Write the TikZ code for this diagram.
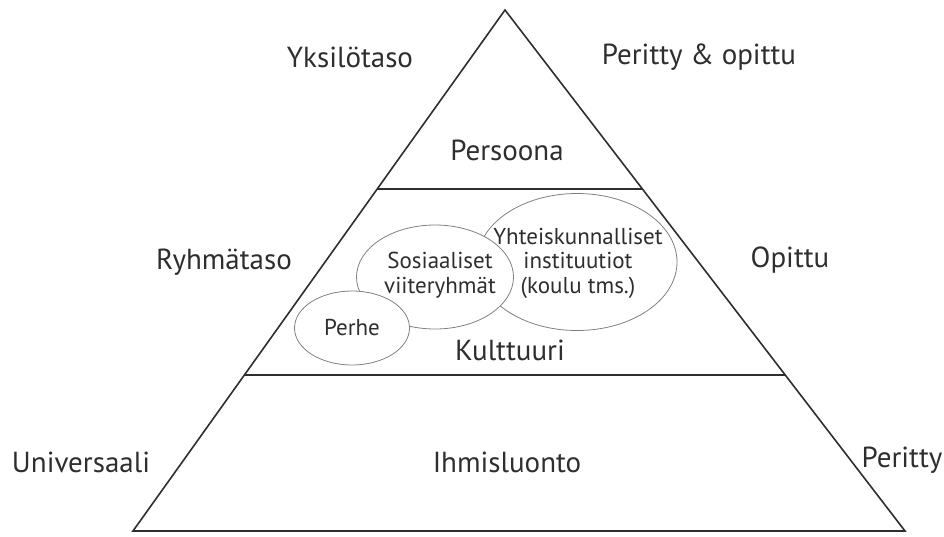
\documentclass[tikz,border=0pt]{standalone}
\usepackage{fontspec}
\setmainfont{PT Sans}
\usetikzlibrary{calc,shapes.geometric}
\definecolor{ink}{HTML}{2E2E2E}
\definecolor{rim}{HTML}{808080}
\tikzset{
  edge/.style={draw=ink, line width=1.6pt},
  lvl/.style={text=ink, font=\fontsize{29}{33}\selectfont},
  circ/.style={ellipse, draw=rim, line width=0.8pt, fill=white, inner sep=0pt},
  intext/.style={text=ink, align=center, inner sep=0pt, font=\fontsize{23}{24.5}\selectfont}
}
\begin{document}
\begin{tikzpicture}[x=1pt,y=-1pt]
    \useasboundingbox ( 0, 0 ) rectangle ( 944, 536 );

    % pyramidi
    \coordinate (top) at ( 505, 10 );
    \coordinate (bl) at ( 133, 531 );
    \coordinate (br) at ( 905, 531 );
    \draw [edge, line join=miter] (bl) -- (top) -- (br) -- cycle;

    % tasojen rajat
    \coordinate (a1) at ($(top)!0.344!(bl)$);
    \coordinate (b1) at ($(top)!0.344!(br)$);
    \coordinate (a2) at ($(top)!0.70!(bl)$);
    \coordinate (b2) at ($(top)!0.70!(br)$);
    \draw [edge] (a1) -- (b1);
    \draw [edge] (a2) -- (b2);

    % kulttuurin piirit
    \node [circ, minimum width=200, minimum height=137] (yhteis) at ( 577, 262 ) {};
    \node [intext] (yhteis-t) at ( 578, 263 ) {Yhteiskunnalliset\\instituutiot\\(koulu tms.)};
    \node [circ, minimum width=157, minimum height=104] (sosiaal) at ( 435, 277 ) {};
    \node [intext] (sosiaal-t) at ( 440, 275 ) {Sosiaaliset\\viiteryhmät};
    \node [circ, minimum width=115, minimum height=74] (perhe) at ( 352, 328 ) {};
    \node [intext] (perhe-t) at ( 352, 327 ) {Perhe};

    % tasojen nimet
    \node [lvl] (persoona) at ( 507, 150 ) {Persoona};
    \node [lvl] (kulttuuri) at ( 510, 350 ) {Kulttuuri};
    \node [lvl] (ihminen) at ( 507, 462 ) {Ihmisluonto};

    % vasen puoli
    \node [lvl] (yksilo) at ( 350, 57 ) {Yksilötaso};
    \node [lvl] (ryhma) at ( 224, 262 ) {Ryhmätaso};
    \node [lvl] (univ) at ( 81, 462 ) {Universaali};

    % oikea puoli
    \node [lvl] (perop) at ( 699, 57 ) {Peritty \& opittu};
    \node [lvl] (opittu) at ( 790, 260 ) {Opittu};
    \node [lvl] (peritty) at ( 902, 460 ) {Peritty};
\end{tikzpicture}
\end{document}
